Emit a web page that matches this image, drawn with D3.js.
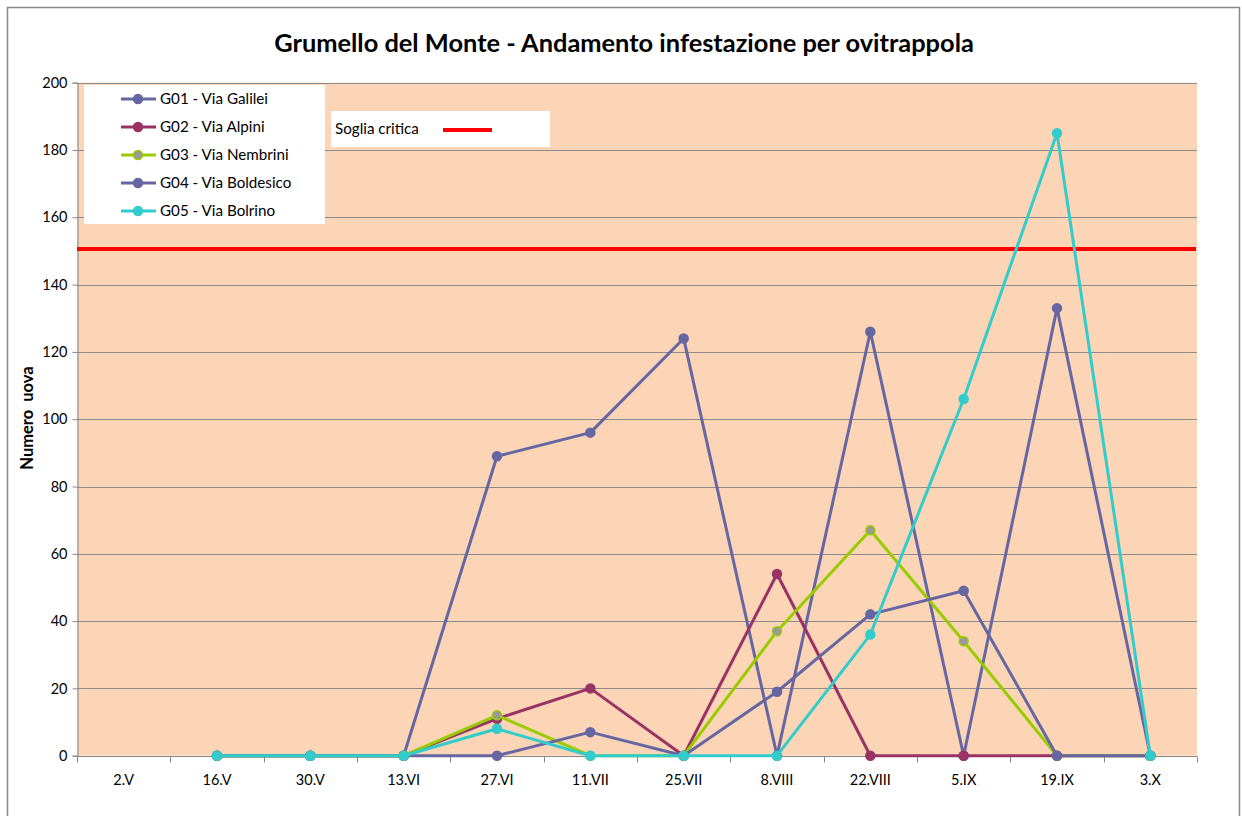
<!DOCTYPE html>
<html>
<head>
<meta charset="utf-8">
<script src="https://cdn.jsdelivr.net/npm/d3@7"></script>
<style>
  body { margin: 0; background: #fff; }
  svg { display: block; font-family: Lato, 'Open Sans', sans-serif; }
</style>
</head>
<body>
<div id="container"></div>
<script>
// data
const dates = ['2.V', '16.V', '30.V', '13.VI', '27.VI', '11.VII', '25.VII', '8.VIII', '22.VIII', '5.IX', '19.IX', '3.X']
const g01 = [null, 0, 0, 0, 89, 96, 124, 0, 126, 0, 133, 0]
const g02 = [null, 0, 0, 0, 11, 20, 0, 54, 0, 0, 0, 0]
const g03 = [null, 0, 0, 0, 12, 0, 0, 37, 67, 34, 0, 0]
const g04 = [null, 0, 0, 0, 0, 7, 0, 19, 42, 49, 0, 0]
const g05 = [null, 0, 0, 0, 8, 0, 0, 0, 36, 106, 185, 0]
const seriesNames = ['G01 - Via Galilei', 'G02 - Via Alpini', 'G03 - Via Nembrini', 'G04 - Via Boldesico', 'G05 - Via Bolrino']
const yTicks = [0, 20, 40, 60, 80, 100, 120, 140, 160, 180, 200]
const soglia = 150

const series = [
  { name: seriesNames[0], values: g01, color: '#6666A3', fill: '#6666A3' },
  { name: seriesNames[1], values: g02, color: '#993366', fill: '#993366' },
  { name: seriesNames[2], values: g03, color: '#99CC00', fill: '#999999' },
  { name: seriesNames[3], values: g04, color: '#6666A3', fill: '#6666A3' },
  { name: seriesNames[4], values: g05, color: '#33CCCC', fill: '#33CCCC' }
]

const w = 1242
const h = 816
const plot = { left: 77, right: 1197, top: 82.7, bottom: 755.7 }

const svg = d3.select('#container')
  .append('svg')
  .attr('width', w)
  .attr('height', h)

// outer chart border
svg.append('rect')
  .attr('x', 7.5).attr('y', 7.5)
  .attr('width', 1232).attr('height', 830)
  .attr('fill', '#fff')
  .attr('stroke', '#868686')
  .attr('stroke-width', 1.5)

const xScale = d3.scaleBand()
  .domain(dates)
  .range([plot.left, plot.right])

const yScale = d3.scaleLinear()
  .domain([0, 200])
  .range([plot.bottom, plot.top])

const xPos = d => xScale(d) + xScale.bandwidth() / 2

svg.append('rect')
  .attr('x', plot.left)
  .attr('y', plot.top)
  .attr('width', plot.right - plot.left)
  .attr('height', plot.bottom - plot.top)
  .attr('fill', '#FBD5B5')

// gridlines
svg.append('g')
  .selectAll('line')
  .data(yTicks.filter(t => t > 0))
  .enter().append('line')
  .attr('x1', plot.left)
  .attr('x2', plot.right)
  .attr('y1', d => Math.round(yScale(d)) + 0.5)
  .attr('y2', d => Math.round(yScale(d)) + 0.5)
  .attr('stroke', '#8c8c8c')
  .attr('stroke-width', 1)

// y axis
const yAxis = d3.axisLeft(yScale)
  .tickValues(yTicks)
  .tickSize(5)
  .tickPadding(5)

const yG = svg.append('g')
  .attr('transform', 'translate(' + (plot.left + 0.5) + ',0)')
  .call(yAxis)
yG.select('.domain').attr('stroke', '#868686')
yG.selectAll('.tick line').attr('stroke', '#868686')
yG.selectAll('text')
  .style('font-size', '14.5px')
  .style('font-family', 'Lato, sans-serif')
  .attr('fill', '#000')

// x axis: ticks sit between categories
const xG = svg.append('g')
  .attr('transform', 'translate(0,' + (Math.round(plot.bottom) + 0.5) + ')')
xG.append('line')
  .attr('x1', plot.left).attr('x2', plot.right)
  .attr('stroke', '#868686')
xG.selectAll('.xtick')
  .data(dates.concat(['end']))
  .enter().append('line')
  .attr('class', 'xtick')
  .attr('x1', (d, i) => Math.round(plot.left + i * xScale.bandwidth()) + 0.5)
  .attr('x2', (d, i) => Math.round(plot.left + i * xScale.bandwidth()) + 0.5)
  .attr('y1', 0).attr('y2', 6)
  .attr('stroke', '#868686')
xG.selectAll('.xlabel')
  .data(dates)
  .enter().append('text')
  .attr('class', 'xlabel')
  .attr('x', d => xPos(d))
  .attr('y', 28)
  .attr('text-anchor', 'middle')
  .style('font-size', '14.5px')
  .text(d => d)

// soglia critica
svg.append('line')
  .attr('x1', plot.left)
  .attr('x2', plot.right - 1)
  .attr('y1', yScale(soglia) - 2)
  .attr('y2', yScale(soglia) - 2)
  .attr('stroke', '#FF0000')
  .attr('stroke-width', 4)

// series
const line = d3.line()
  .defined(d => d.v !== null)
  .x(d => xPos(d.date))
  .y(d => yScale(d.v))

series.forEach(s => {
  const pts = s.values.map((v, i) => ({ date: dates[i], v: v }))
  const g = svg.append('g')
  g.append('path')
    .datum(pts)
    .attr('d', line)
    .attr('fill', 'none')
    .attr('stroke', s.color)
    .attr('stroke-width', 3)
    .attr('stroke-linejoin', 'round')
  g.selectAll('circle')
    .data(pts.filter(p => p.v !== null))
    .enter().append('circle')
    .attr('cx', p => xPos(p.date))
    .attr('cy', p => yScale(p.v))
    .attr('r', 4.5)
    .attr('fill', s.fill)
    .attr('stroke', s.color)
    .attr('stroke-width', 1.5)
})

// title
svg.append('text')
  .attr('x', 624)
  .attr('y', 52)
  .attr('text-anchor', 'middle')
  .style('font-size', '25.4px')
  .style('font-weight', 'bold')
  .text('Grumello del Monte - Andamento infestazione per ovitrappola')

// y axis label
svg.append('text')
  .attr('transform', 'translate(33,418) rotate(-90)')
  .attr('text-anchor', 'middle')
  .style('font-size', '16.5px')
  .style('font-weight', 'bold')
  .style('white-space', 'pre')
  .text('Numero  uova')

// legend
const legend = svg.append('g').attr('id', 'legend')
legend.append('rect')
  .attr('x', 84).attr('y', 85)
  .attr('width', 241).attr('height', 139)
  .attr('fill', '#fff')

series.forEach((s, i) => {
  const y = 99 + i * 28
  legend.append('line')
    .attr('x1', 121).attr('x2', 156)
    .attr('y1', y).attr('y2', y)
    .attr('stroke', s.color)
    .attr('stroke-width', 3)
  legend.append('circle')
    .attr('cx', 138).attr('cy', y)
    .attr('r', 4.5)
    .attr('fill', s.fill)
    .attr('stroke', s.color)
    .attr('stroke-width', 1.5)
  legend.append('text')
    .attr('x', 160).attr('y', y)
    .attr('dy', '0.35em')
    .style('font-size', '15.2px')
    .text(s.name)
})

legend.append('rect')
  .attr('x', 331).attr('y', 111)
  .attr('width', 219).attr('height', 36)
  .attr('fill', '#fff')
legend.append('text')
  .attr('x', 335).attr('y', 129)
  .attr('dy', '0.35em')
  .style('font-size', '15.2px')
  .text('Soglia critica')
legend.append('line')
  .attr('x1', 443).attr('x2', 492)
  .attr('y1', 130).attr('y2', 130)
  .attr('stroke', '#FF0000')
  .attr('stroke-width', 4)
</script>
</body>
</html>
